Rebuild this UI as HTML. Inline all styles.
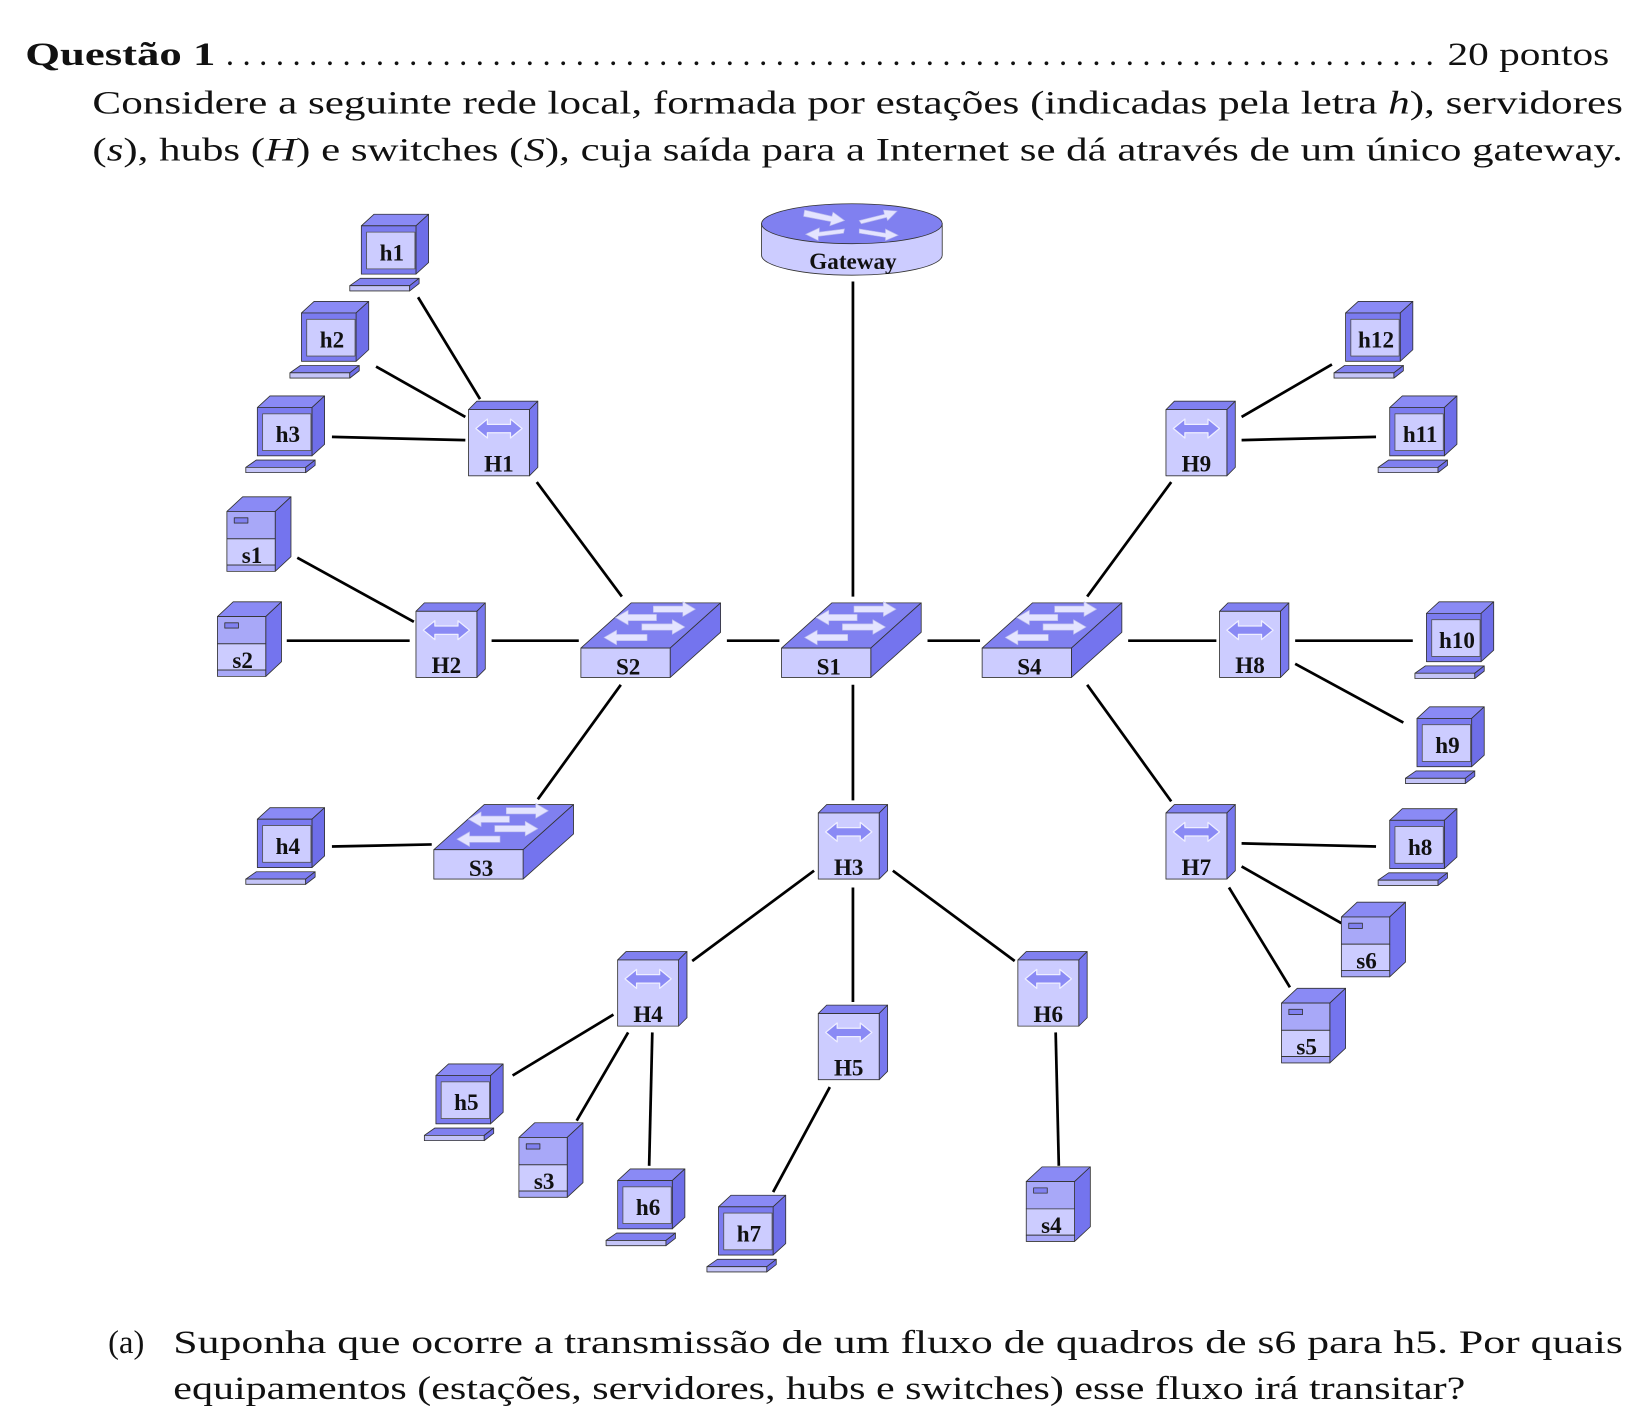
<!DOCTYPE html>
<html><head><meta charset="utf-8"><style>
html,body{margin:0;padding:0;background:#fff;}
svg{display:block;}
text{font-family:"Liberation Serif",serif;}
.lb{font-weight:bold;font-size:22px;text-anchor:middle;fill:#111;}
.tx{font-size:31px;fill:#111;}
</style></head><body>
<svg width="1646" height="1420" viewBox="0 0 1567 1352" preserveAspectRatio="none" xmlns="http://www.w3.org/2000/svg">
<defs>
<g id="host" stroke="#333" stroke-width="0.8" stroke-linejoin="round">
<polygon points="-29,-25 -17,-36 35,-36 23,-25" fill="#8a8af5"/>
<polygon points="23,-25 35,-36 35,10 23,21" fill="#6e6ee8"/>
<rect x="-29" y="-25" width="52" height="46" fill="#7b7bf0"/>
<rect x="-24" y="-19" width="46" height="35" fill="#ccccff" stroke="#555"/>
<polygon points="-30,25 26,25 17,32 -40,32" fill="#8080f0"/>
<rect x="-40" y="32" width="57" height="5" fill="#c4c4f8"/>
<polygon points="17,32 26,25 26,30 17,37" fill="#6e6ee8"/>
</g>
<g id="server" stroke="#333" stroke-width="0.8" stroke-linejoin="round">
<polygon points="-24,-41 -9,-55 37,-55 22,-41" fill="#8a8af5"/>
<polygon points="22,-41 37,-55 37,2 22,16" fill="#7474ee"/>
<rect x="-24" y="-41" width="46" height="26" fill="#a8a8f8"/>
<rect x="-24" y="-15" width="46" height="25" fill="#ccccff"/>
<rect x="-24" y="10" width="46" height="6" fill="#a8a8f8"/>
<rect x="-17" y="-35" width="13" height="5" fill="#8080f0"/>
</g>
<g id="hub" stroke="#333" stroke-width="0.8" stroke-linejoin="round">
<polygon points="-31,-51 -23,-59 35,-59 27,-51" fill="#8080f0"/>
<polygon points="27,-51 35,-59 35,4 27,12" fill="#7878ee"/>
<rect x="-31" y="-51" width="58" height="63" fill="#ccccff"/>
<polygon points="-24,-33 -13,-42 -13,-37 9,-37 9,-42 20,-33 9,-24 9,-29 -13,-29 -13,-24" fill="#8a8af5" stroke="#eeeeff" stroke-width="1.2"/>
</g>
<g id="sw" stroke="#333" stroke-width="0.8" stroke-linejoin="round">
<polygon points="-45,-17 3,-60 88,-60 40,-17" fill="#8080f0"/>
<polygon points="40,-17 88,-60 88,-32 40,11" fill="#7474ee"/>
<rect x="-45" y="-17" width="85" height="28" fill="#ccccff"/>
<g fill="#e4e4ff" stroke="#bbbbee" stroke-width="0.6">
<polygon points="24,-57 52,-57 52,-61 64,-54 52,-47 52,-51 24,-51"/>
<polygon points="27,-49 0,-49 0,-53 -12,-46 0,-39 0,-43 27,-43"/>
<polygon points="13,-40 42,-40 42,-44 54,-37 42,-30 42,-34 13,-34"/>
<polygon points="18,-30 -11,-30 -11,-34 -23,-27 -11,-20 -11,-24 18,-24"/>
</g>
</g>
</defs>

<text class="tx" x="24" y="62" font-weight="bold" textLength="181" lengthAdjust="spacingAndGlyphs">Questão 1</text>
<text class="tx" x="215" y="62" textLength="1150" lengthAdjust="spacing">. . . . . . . . . . . . . . . . . . . . . . . . . . . . . . . . . . . . . . . . . . . . . . . . . . . . . . . . . . . . . . . . . . . . . . . . .</text>
<text class="tx" x="1378" y="62" textLength="154" lengthAdjust="spacingAndGlyphs">20 pontos</text>
<text class="tx" x="88" y="108" textLength="1457" lengthAdjust="spacingAndGlyphs">Considere a seguinte rede local, formada por estações (indicadas pela letra <tspan font-style="italic">h</tspan>), servidores</text>
<text class="tx" x="88" y="153" textLength="1457" lengthAdjust="spacingAndGlyphs">(<tspan font-style="italic">s</tspan>), hubs (<tspan font-style="italic">H</tspan>) e switches (<tspan font-style="italic">S</tspan>), cuja saída para a Internet se dá através de um único gateway.</text>

<g stroke="#000" stroke-width="2.6" stroke-linecap="butt">
<line x1="812" y1="268" x2="812" y2="568"/>
<line x1="398" y1="283" x2="457" y2="380"/>
<line x1="358" y1="349" x2="443" y2="397"/>
<line x1="316" y1="416" x2="443" y2="419"/>
<line x1="511" y1="459" x2="592" y2="568"/>
<line x1="283" y1="531" x2="394" y2="592"/>
<line x1="273" y1="610" x2="390" y2="610"/>
<line x1="468" y1="610" x2="551" y2="610"/>
<line x1="692" y1="610" x2="742" y2="610"/>
<line x1="883" y1="610" x2="933" y2="610"/>
<line x1="1035" y1="568" x2="1115" y2="459"/>
<line x1="1182" y1="397" x2="1268" y2="347"/>
<line x1="1182" y1="419" x2="1310" y2="416"/>
<line x1="1074" y1="610" x2="1158" y2="610"/>
<line x1="1233" y1="610" x2="1345" y2="610"/>
<line x1="1233" y1="632" x2="1336" y2="688"/>
<line x1="1035" y1="652" x2="1115" y2="763"/>
<line x1="1182" y1="803" x2="1310" y2="806"/>
<line x1="1182" y1="825" x2="1277" y2="879"/>
<line x1="1170" y1="845" x2="1228" y2="940"/>
<line x1="591" y1="652" x2="512" y2="761"/>
<line x1="316" y1="806" x2="411" y2="804"/>
<line x1="812" y1="652" x2="812" y2="762"/>
<line x1="775" y1="829" x2="659" y2="915"/>
<line x1="812" y1="845" x2="812" y2="954"/>
<line x1="850" y1="829" x2="966" y2="915"/>
<line x1="584" y1="966" x2="488" y2="1024"/>
<line x1="598" y1="983" x2="549" y2="1067"/>
<line x1="621" y1="983" x2="618" y2="1110"/>
<line x1="790" y1="1035" x2="736" y2="1135"/>
<line x1="1005" y1="983" x2="1008" y2="1110"/>
</g>

<g stroke="#333" stroke-width="0.8">
<path d="M725,213 L725,243 A86,19 0 0 0 897,243 L897,213 Z" fill="#ccccff"/>
<ellipse cx="811" cy="213" rx="86" ry="19" fill="#8080f0"/>
<g fill="#e4e4ff" stroke="#bbbbee" stroke-width="0.6">
<polygon points="766,200 792,206 793,202 804,210 790,215 791,211 765,206"/>
<polygon points="804,218 780,221 780,217 767,223 779,229 779,225 803,222"/>
<polygon points="818,210 842,204 841,200 854,201 845,210 844,207 820,213"/>
<polygon points="818,218 843,222 843,218 855,224 843,229 843,226 818,222"/>
</g>
</g>
<text class="lb" x="812" y="256">Gateway</text>

<use href="#host" x="373" y="240"/><text class="lb" x="373" y="248">h1</text>
<use href="#host" x="316" y="323"/><text class="lb" x="316" y="331">h2</text>
<use href="#host" x="274" y="413"/><text class="lb" x="274" y="421">h3</text>
<use href="#host" x="274" y="805"/><text class="lb" x="274" y="813">h4</text>
<use href="#host" x="444" y="1049"/><text class="lb" x="444" y="1057">h5</text>
<use href="#host" x="617" y="1149"/><text class="lb" x="617" y="1157">h6</text>
<use href="#host" x="713" y="1174"/><text class="lb" x="713" y="1182">h7</text>
<use href="#host" x="1352" y="806"/><text class="lb" x="1352" y="814">h8</text>
<use href="#host" x="1378" y="709"/><text class="lb" x="1378" y="717">h9</text>
<use href="#host" x="1387" y="609"/><text class="lb" x="1387" y="617">h10</text>
<use href="#host" x="1352" y="413"/><text class="lb" x="1352" y="421">h11</text>
<use href="#host" x="1310" y="323"/><text class="lb" x="1310" y="331">h12</text>

<use href="#server" x="240" y="528"/><text class="lb" x="240" y="536">s1</text>
<use href="#server" x="231" y="628"/><text class="lb" x="231" y="636">s2</text>
<use href="#server" x="518" y="1124"/><text class="lb" x="518" y="1132">s3</text>
<use href="#server" x="1001" y="1166"/><text class="lb" x="1001" y="1174">s4</text>
<use href="#server" x="1244" y="996"/><text class="lb" x="1244" y="1004">s5</text>
<use href="#server" x="1301" y="914"/><text class="lb" x="1301" y="922">s6</text>

<use href="#hub" x="477" y="441"/><text class="lb" x="475" y="449">H1</text>
<use href="#hub" x="427" y="633"/><text class="lb" x="425" y="641">H2</text>
<use href="#hub" x="810" y="825"/><text class="lb" x="808" y="833">H3</text>
<use href="#hub" x="619" y="965"/><text class="lb" x="617" y="973">H4</text>
<use href="#hub" x="810" y="1016"/><text class="lb" x="808" y="1024">H5</text>
<use href="#hub" x="1000" y="965"/><text class="lb" x="998" y="973">H6</text>
<use href="#hub" x="1141" y="825"/><text class="lb" x="1139" y="833">H7</text>
<use href="#hub" x="1192" y="633"/><text class="lb" x="1190" y="641">H8</text>
<use href="#hub" x="1141" y="441"/><text class="lb" x="1139" y="449">H9</text>

<use href="#sw" x="598" y="634"/><text class="lb" x="598" y="642">S2</text>
<use href="#sw" x="789" y="634"/><text class="lb" x="789" y="642">S1</text>
<use href="#sw" x="980" y="634"/><text class="lb" x="980" y="642">S4</text>
<use href="#sw" x="458" y="826"/><text class="lb" x="458" y="834">S3</text>

<text class="tx" x="103" y="1288">(a)</text>
<text class="tx" x="165" y="1288" textLength="1380" lengthAdjust="spacingAndGlyphs">Suponha que ocorre a transmissão de um fluxo de quadros de s6 para h5.  Por quais</text>
<text class="tx" x="165" y="1332" textLength="1230" lengthAdjust="spacingAndGlyphs">equipamentos (estações, servidores, hubs e switches) esse fluxo irá transitar?</text>
</svg>
</body></html>
